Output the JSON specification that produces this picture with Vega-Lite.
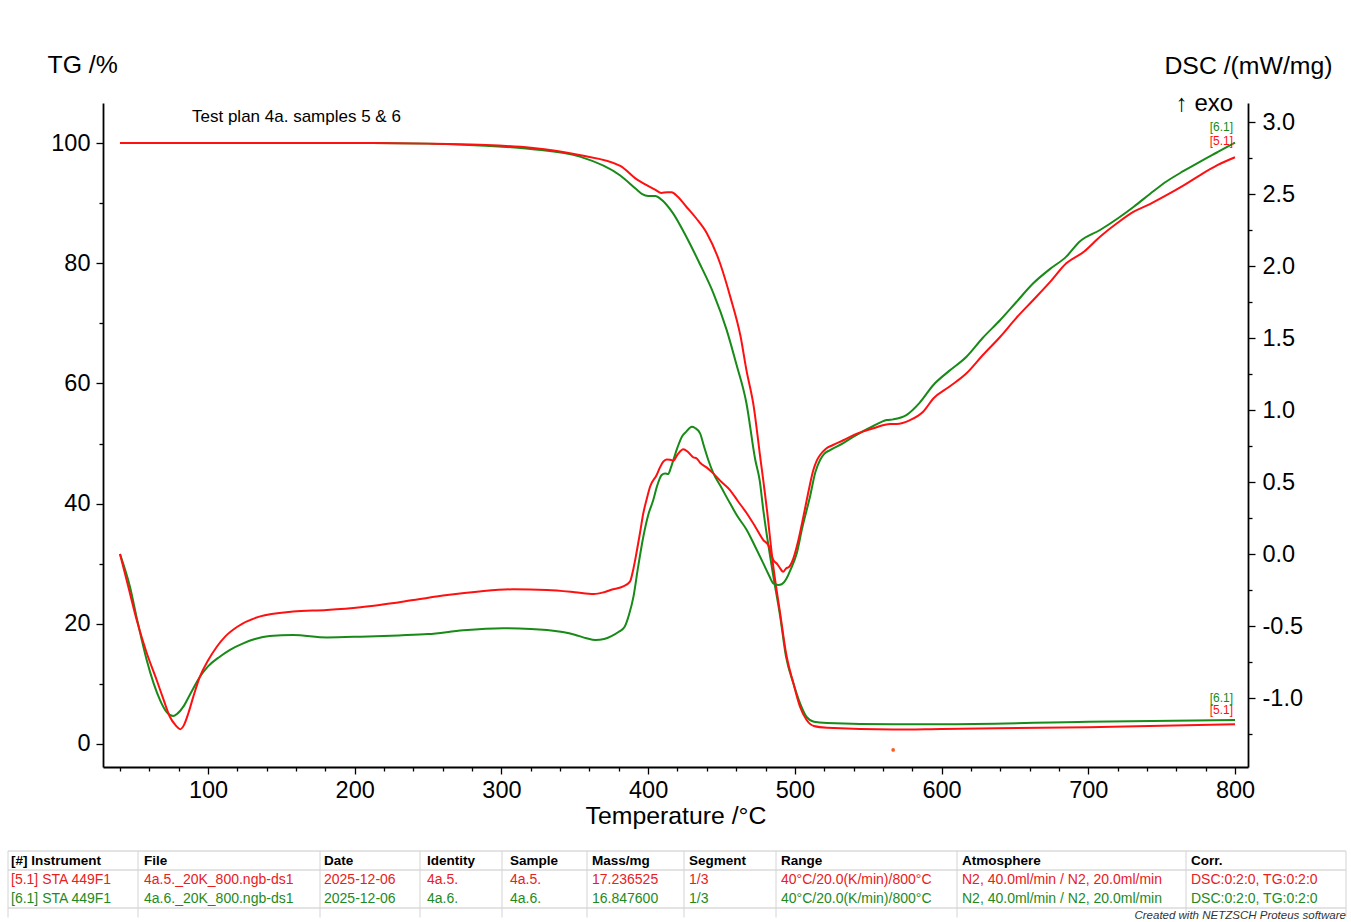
{
  "$schema": "https://vega.github.io/schema/vega-lite/v6.json",
  "width": 1145,
  "height": 664,
  "autosize": {"type": "none"},
  "padding": {"left": 103, "top": 103, "right": 103, "bottom": 155},
  "background": "white",
  "config": {
    "view": {"stroke": null},
    "font": "Liberation Sans",
    "text": {"font": "Liberation Sans"},
    "axis": {
      "domainColor": "black", "tickColor": "black", "labelColor": "black", "titleColor": "black",
      "labelFont": "Liberation Sans", "titleFont": "Liberation Sans", "grid": false,
      "labelFontSize": 23.5, "titleFontSize": 24.8, "titleFontWeight": "normal",
      "domainWidth": 1.8, "tickWidth": 1.3, "labelFlush": false, "labelOverlap": false
    }
  },
  "datasets": {
    "tg": [
      {"s":"6.1","T":40,"v":100},{"s":"6.1","T":200,"v":100},{"s":"6.1","T":250,"v":99.9},{"s":"6.1","T":285,"v":99.6},{"s":"6.1","T":320,"v":99.0},{"s":"6.1","T":354,"v":97.7},{"s":"6.1","T":381,"v":94.6},{"s":"6.1","T":392,"v":92.3},{"s":"6.1","T":396,"v":91.5},{"s":"6.1","T":400,"v":91.2},{"s":"6.1","T":405,"v":91.2},{"s":"6.1","T":408,"v":90.8},{"s":"6.1","T":417,"v":88.3},{"s":"6.1","T":426,"v":84.4},{"s":"6.1","T":435,"v":80.0},{"s":"6.1","T":444.5,"v":75.0},{"s":"6.1","T":453.5,"v":68.9},{"s":"6.1","T":460,"v":63.3},{"s":"6.1","T":467,"v":56.7},{"s":"6.1","T":473,"v":47.3},{"s":"6.1","T":476,"v":43.9},{"s":"6.1","T":478.5,"v":38.9},{"s":"6.1","T":485,"v":28.4},{"s":"6.1","T":490,"v":21.2},{"s":"6.1","T":494,"v":14.5},{"s":"6.1","T":499,"v":10.1},{"s":"6.1","T":503.5,"v":6.8},{"s":"6.1","T":508,"v":4.5},{"s":"6.1","T":513,"v":3.7},{"s":"6.1","T":522,"v":3.5},{"s":"6.1","T":567,"v":3.3},{"s":"6.1","T":600,"v":3.3},{"s":"6.1","T":700,"v":3.7},{"s":"6.1","T":800,"v":4.0},
      {"s":"5.1","T":40,"v":100},{"s":"5.1","T":100,"v":100},{"s":"5.1","T":200,"v":100},{"s":"5.1","T":250,"v":99.9},{"s":"5.1","T":285,"v":99.7},{"s":"5.1","T":320,"v":99.2},{"s":"5.1","T":353,"v":98.0},{"s":"5.1","T":381,"v":96.2},{"s":"5.1","T":392,"v":94.0},{"s":"5.1","T":399,"v":93.0},{"s":"5.1","T":405,"v":92.2},{"s":"5.1","T":409,"v":91.7},{"s":"5.1","T":413,"v":91.8},{"s":"5.1","T":416,"v":91.8},{"s":"5.1","T":420,"v":91.1},{"s":"5.1","T":426,"v":89.4},{"s":"5.1","T":433,"v":87.4},{"s":"5.1","T":440,"v":85.0},{"s":"5.1","T":449,"v":80.0},{"s":"5.1","T":456,"v":74.4},{"s":"5.1","T":463,"v":67.8},{"s":"5.1","T":467,"v":62.2},{"s":"5.1","T":472,"v":56.1},{"s":"5.1","T":476,"v":48.5},{"s":"5.1","T":481,"v":38.9},{"s":"5.1","T":485,"v":30.1},{"s":"5.1","T":490,"v":21.7},{"s":"5.1","T":494,"v":15.1},{"s":"5.1","T":499,"v":10.1},{"s":"5.1","T":503.5,"v":6.2},{"s":"5.1","T":508,"v":4.0},{"s":"5.1","T":513,"v":3.0},{"s":"5.1","T":522,"v":2.7},{"s":"5.1","T":567,"v":2.4},{"s":"5.1","T":600,"v":2.5},{"s":"5.1","T":700,"v":2.8},{"s":"5.1","T":800,"v":3.3}
    ],
    "dsc": [
      {"s":"6.1","T":40,"v":0.0},{"s":"6.1","T":46.8,"v":-0.227},{"s":"6.1","T":52,"v":-0.47},{"s":"6.1","T":58.2,"v":-0.736},{"s":"6.1","T":63,"v":-0.9},{"s":"6.1","T":67.3,"v":-1.014},{"s":"6.1","T":72,"v":-1.1},{"s":"6.1","T":76.3,"v":-1.125},{"s":"6.1","T":79,"v":-1.11},{"s":"6.1","T":83.2,"v":-1.06},{"s":"6.1","T":88,"v":-0.97},{"s":"6.1","T":94.5,"v":-0.852},{"s":"6.1","T":100,"v":-0.78},{"s":"6.1","T":108,"v":-0.713},{"s":"6.1","T":115,"v":-0.665},{"s":"6.1","T":124,"v":-0.62},{"s":"6.1","T":132,"v":-0.59},{"s":"6.1","T":142,"v":-0.569},{"s":"6.1","T":158,"v":-0.5625},{"s":"6.1","T":181,"v":-0.579},{"s":"6.1","T":204,"v":-0.574},{"s":"6.1","T":230,"v":-0.565},{"s":"6.1","T":250,"v":-0.556},{"s":"6.1","T":274,"v":-0.53},{"s":"6.1","T":301,"v":-0.516},{"s":"6.1","T":320,"v":-0.52},{"s":"6.1","T":331,"v":-0.528},{"s":"6.1","T":350,"v":-0.56},{"s":"6.1","T":358,"v":-0.585},{"s":"6.1","T":364,"v":-0.597},{"s":"6.1","T":370,"v":-0.59},{"s":"6.1","T":375,"v":-0.57},{"s":"6.1","T":380,"v":-0.54},{"s":"6.1","T":384,"v":-0.505},{"s":"6.1","T":387,"v":-0.42},{"s":"6.1","T":390,"v":-0.296},{"s":"6.1","T":393,"v":-0.1},{"s":"6.1","T":396.7,"v":0.12},{"s":"6.1","T":400,"v":0.27},{"s":"6.1","T":403.5,"v":0.375},{"s":"6.1","T":406,"v":0.47},{"s":"6.1","T":409.2,"v":0.549},{"s":"6.1","T":411.5,"v":0.56},{"s":"6.1","T":413.7,"v":0.556},{"s":"6.1","T":415.5,"v":0.6},{"s":"6.1","T":417.2,"v":0.653},{"s":"6.1","T":420,"v":0.74},{"s":"6.1","T":423,"v":0.815},{"s":"6.1","T":426,"v":0.85},{"s":"6.1","T":429.7,"v":0.884},{"s":"6.1","T":432,"v":0.875},{"s":"6.1","T":435.4,"v":0.838},{"s":"6.1","T":438,"v":0.75},{"s":"6.1","T":441,"v":0.653},{"s":"6.1","T":444.5,"v":0.56},{"s":"6.1","T":450,"v":0.46},{"s":"6.1","T":455.8,"v":0.352},{"s":"6.1","T":461,"v":0.26},{"s":"6.1","T":467.2,"v":0.167},{"s":"6.1","T":473,"v":0.05},{"s":"6.1","T":478.5,"v":-0.065},{"s":"6.1","T":482,"v":-0.14},{"s":"6.1","T":485.3,"v":-0.204},{"s":"6.1","T":488.7,"v":-0.215},{"s":"6.1","T":491,"v":-0.21},{"s":"6.1","T":494.4,"v":-0.169},{"s":"6.1","T":497,"v":-0.11},{"s":"6.1","T":501.3,"v":0.005},{"s":"6.1","T":505,"v":0.18},{"s":"6.1","T":510.3,"v":0.398},{"s":"6.1","T":514,"v":0.57},{"s":"6.1","T":517.2,"v":0.653},{"s":"6.1","T":520,"v":0.695},{"s":"6.1","T":524,"v":0.722},{"s":"6.1","T":533,"v":0.77},{"s":"6.1","T":540,"v":0.815},{"s":"6.1","T":553.5,"v":0.889},{"s":"6.1","T":562.6,"v":0.93},{"s":"6.1","T":567,"v":0.935},{"s":"6.1","T":576,"v":0.965},{"s":"6.1","T":585,"v":1.05},{"s":"6.1","T":594.4,"v":1.174},{"s":"6.1","T":605,"v":1.27},{"s":"6.1","T":617,"v":1.37},{"s":"6.1","T":628,"v":1.5},{"s":"6.1","T":640,"v":1.625},{"s":"6.1","T":651,"v":1.75},{"s":"6.1","T":662.5,"v":1.88},{"s":"6.1","T":674,"v":1.98},{"s":"6.1","T":685,"v":2.065},{"s":"6.1","T":694,"v":2.169},{"s":"6.1","T":708,"v":2.25},{"s":"6.1","T":720,"v":2.33},{"s":"6.1","T":731,"v":2.412},{"s":"6.1","T":742,"v":2.5},{"s":"6.1","T":753,"v":2.585},{"s":"6.1","T":765,"v":2.66},{"s":"6.1","T":776,"v":2.724},{"s":"6.1","T":788,"v":2.79},{"s":"6.1","T":800,"v":2.856},
      {"s":"5.1","T":40,"v":0.0},{"s":"5.1","T":45,"v":-0.2},{"s":"5.1","T":51.4,"v":-0.458},{"s":"5.1","T":58,"v":-0.68},{"s":"5.1","T":65,"v":-0.875},{"s":"5.1","T":70,"v":-1.02},{"s":"5.1","T":74,"v":-1.13},{"s":"5.1","T":78,"v":-1.19},{"s":"5.1","T":81,"v":-1.217},{"s":"5.1","T":83.5,"v":-1.19},{"s":"5.1","T":86.6,"v":-1.106},{"s":"5.1","T":90,"v":-0.99},{"s":"5.1","T":94.5,"v":-0.852},{"s":"5.1","T":100,"v":-0.74},{"s":"5.1","T":106,"v":-0.644},{"s":"5.1","T":112,"v":-0.57},{"s":"5.1","T":120,"v":-0.505},{"s":"5.1","T":135,"v":-0.435},{"s":"5.1","T":158,"v":-0.4},{"s":"5.1","T":181,"v":-0.389},{"s":"5.1","T":204,"v":-0.37},{"s":"5.1","T":217,"v":-0.354},{"s":"5.1","T":240,"v":-0.32},{"s":"5.1","T":263,"v":-0.285},{"s":"5.1","T":285,"v":-0.26},{"s":"5.1","T":308,"v":-0.245},{"s":"5.1","T":331,"v":-0.25},{"s":"5.1","T":350,"v":-0.265},{"s":"5.1","T":363,"v":-0.278},{"s":"5.1","T":370,"v":-0.265},{"s":"5.1","T":376,"v":-0.245},{"s":"5.1","T":383,"v":-0.225},{"s":"5.1","T":387.6,"v":-0.192},{"s":"5.1","T":390,"v":-0.1},{"s":"5.1","T":392,"v":0.005},{"s":"5.1","T":394.5,"v":0.15},{"s":"5.1","T":396.7,"v":0.283},{"s":"5.1","T":399,"v":0.38},{"s":"5.1","T":401.3,"v":0.467},{"s":"5.1","T":405.8,"v":0.549},{"s":"5.1","T":408,"v":0.6},{"s":"5.1","T":410.3,"v":0.641},{"s":"5.1","T":412.6,"v":0.657},{"s":"5.1","T":415,"v":0.655},{"s":"5.1","T":417.2,"v":0.648},{"s":"5.1","T":420,"v":0.69},{"s":"5.1","T":424,"v":0.727},{"s":"5.1","T":427,"v":0.71},{"s":"5.1","T":430.8,"v":0.671},{"s":"5.1","T":433,"v":0.665},{"s":"5.1","T":435.4,"v":0.634},{"s":"5.1","T":440,"v":0.6},{"s":"5.1","T":444.4,"v":0.56},{"s":"5.1","T":450,"v":0.5},{"s":"5.1","T":455.8,"v":0.444},{"s":"5.1","T":461,"v":0.37},{"s":"5.1","T":467.2,"v":0.283},{"s":"5.1","T":473,"v":0.19},{"s":"5.1","T":478.5,"v":0.097},{"s":"5.1","T":482,"v":0.06},{"s":"5.1","T":485.3,"v":-0.042},{"s":"5.1","T":488,"v":-0.07},{"s":"5.1","T":490,"v":-0.1},{"s":"5.1","T":492,"v":-0.123},{"s":"5.1","T":494,"v":-0.1},{"s":"5.1","T":496,"v":-0.09},{"s":"5.1","T":499,"v":-0.03},{"s":"5.1","T":502,"v":0.08},{"s":"5.1","T":505.8,"v":0.259},{"s":"5.1","T":509,"v":0.42},{"s":"5.1","T":512.6,"v":0.583},{"s":"5.1","T":515,"v":0.65},{"s":"5.1","T":517.2,"v":0.6875},{"s":"5.1","T":521,"v":0.73},{"s":"5.1","T":526,"v":0.757},{"s":"5.1","T":533,"v":0.79},{"s":"5.1","T":540,"v":0.826},{"s":"5.1","T":553.5,"v":0.873},{"s":"5.1","T":565,"v":0.903},{"s":"5.1","T":569.4,"v":0.903},{"s":"5.1","T":578.5,"v":0.93},{"s":"5.1","T":587.6,"v":0.99},{"s":"5.1","T":594.4,"v":1.08},{"s":"5.1","T":605,"v":1.16},{"s":"5.1","T":617,"v":1.255},{"s":"5.1","T":628,"v":1.38},{"s":"5.1","T":640,"v":1.509},{"s":"5.1","T":651,"v":1.64},{"s":"5.1","T":662.5,"v":1.764},{"s":"5.1","T":674,"v":1.89},{"s":"5.1","T":685,"v":2.019},{"s":"5.1","T":697,"v":2.099},{"s":"5.1","T":708,"v":2.203},{"s":"5.1","T":720,"v":2.3},{"s":"5.1","T":731,"v":2.377},{"s":"5.1","T":742,"v":2.43},{"s":"5.1","T":753,"v":2.49},{"s":"5.1","T":765,"v":2.56},{"s":"5.1","T":776,"v":2.63},{"s":"5.1","T":788,"v":2.7},{"s":"5.1","T":800,"v":2.755}
    ],
    "tbl": [
      {"c":1,"row":"h","t":"[#] Instrument"},{"c":2,"row":"h","t":"File"},{"c":3,"row":"h","t":"Date"},{"c":4,"row":"h","t":"Identity"},{"c":5,"row":"h","t":"Sample"},{"c":6,"row":"h","t":"Mass/mg"},{"c":7,"row":"h","t":"Segment"},{"c":8,"row":"h","t":"Range"},{"c":9,"row":"h","t":"Atmosphere"},{"c":10,"row":"h","t":"Corr."},
      {"c":1,"row":"5.1","t":"[5.1] STA 449F1"},{"c":2,"row":"5.1","t":"4a.5._20K_800.ngb-ds1"},{"c":3,"row":"5.1","t":"2025-12-06"},{"c":4,"row":"5.1","t":"4a.5."},{"c":5,"row":"5.1","t":"4a.5."},{"c":6,"row":"5.1","t":"17.236525"},{"c":7,"row":"5.1","t":"1/3"},{"c":8,"row":"5.1","t":"40°C/20.0(K/min)/800°C"},{"c":9,"row":"5.1","t":"N2, 40.0ml/min / N2, 20.0ml/min"},{"c":10,"row":"5.1","t":"DSC:0:2:0, TG:0:2:0"},
      {"c":1,"row":"6.1","t":"[6.1] STA 449F1"},{"c":2,"row":"6.1","t":"4a.6._20K_800.ngb-ds1"},{"c":3,"row":"6.1","t":"2025-12-06"},{"c":4,"row":"6.1","t":"4a.6."},{"c":5,"row":"6.1","t":"4a.6."},{"c":6,"row":"6.1","t":"16.847600"},{"c":7,"row":"6.1","t":"1/3"},{"c":8,"row":"6.1","t":"40°C/20.0(K/min)/800°C"},{"c":9,"row":"6.1","t":"N2, 40.0ml/min / N2, 20.0ml/min"},{"c":10,"row":"6.1","t":"DSC:0:2:0, TG:0:2:0"},
      {"c":11,"row":"f","t":"Created with NETZSCH Proteus software"}
    ]
  },
  "resolve": {"scale": {"x": "independent", "y": "independent", "color": "independent"}, "axis": {"x": "independent", "y": "independent"}},
  "layer": [
    {
      "data": {"values": [{"row": "h"}, {"row": "5.1"}, {"row": "f"}]},
      "mark": {"type": "rule", "color": "#c8c8c8", "strokeWidth": 1},
      "encoding": {
        "x": {"datum": 0, "type": "quantitative", "scale": {"domain": [0,1,1.5,2,2.5,3,3.5,4,4.5,5,5.5,6,6.5,7,7.5,8,8.5,9,9.5,10,11], "range": [-95,-92,35,41,217,221,317,324,399,407,484,489,581,586,673,678,854,859,1083,1088,1243], "nice": false, "zero": false}, "axis": null},
        "x2": {"datum": 11},
        "y": {"field": "row", "type": "nominal", "bandPosition": 0, "scale": {"type": "band", "domain": ["h","5.1","6.1","f"], "range": [748, 824], "paddingInner": 0, "paddingOuter": 0}, "axis": null}
      }
    },
    {
      "data": {"values": [{"b": 0}, {"b": 1.5}, {"b": 2.5}, {"b": 3.5}, {"b": 4.5}, {"b": 5.5}, {"b": 6.5}, {"b": 7.5}, {"b": 8.5}, {"b": 9.5}, {"b": 11}]},
      "mark": {"type": "rule", "color": "#d4d4d4", "strokeWidth": 1},
      "encoding": {
        "x": {"field": "b", "type": "quantitative", "scale": {"domain": [0,1,1.5,2,2.5,3,3.5,4,4.5,5,5.5,6,6.5,7,7.5,8,8.5,9,9.5,10,11], "range": [-95,-92,35,41,217,221,317,324,399,407,484,489,581,586,673,678,854,859,1083,1088,1243], "nice": false, "zero": false}, "axis": null},
        "y": {"datum": "h", "type": "nominal", "bandPosition": 0, "scale": {"type": "band", "domain": ["h","5.1","6.1","f"], "range": [748, 824], "paddingInner": 0, "paddingOuter": 0}, "axis": null},
        "y2": {"datum": "f"}
      }
    },
    {
      "data": {"name": "tg"},
      "mark": {"type": "line", "strokeWidth": 2, "interpolate": "monotone"},
      "encoding": {
        "x": {"field": "T", "type": "quantitative", "scale": {"domain": [28.43, 808.86], "nice": false, "zero": false},
          "axis": {"orient": "bottom", "title": "Temperature /°C", "values": [100,200,300,400,500,600,700,800], "tickSize": 7, "labelPadding": 4, "titleY": 56, "titleBaseline": "alphabetic"}},
        "y": {"field": "v", "type": "quantitative", "scale": {"domain": [-3.83, 106.66], "nice": false, "zero": false},
          "axis": {"orient": "left", "title": "TG /%", "values": [0,20,40,60,80,100], "tickSize": 7, "labelPadding": 6, "titleAngle": 0, "titleAlign": "left", "titleBaseline": "alphabetic", "titleX": -56, "titleY": -31}},
        "color": {"field": "s", "type": "nominal", "scale": {"domain": ["5.1","6.1"], "range": ["#ff1010","#178a17"]}, "legend": null}
      }
    },
    {
      "data": {"name": "dsc"},
      "mark": {"type": "line", "strokeWidth": 2, "interpolate": "monotone"},
      "encoding": {
        "x": {"field": "T", "type": "quantitative", "scale": {"domain": [28.43, 808.86], "nice": false, "zero": false},
          "axis": {"orient": "bottom", "title": null, "values": [40,60,80,120,140,160,180,220,240,260,280,320,340,360,380,420,440,460,480,520,540,560,580,620,640,660,680,720,740,760,780], "tickSize": 4, "labels": false, "domain": false}},
        "y": {"field": "v", "type": "quantitative", "scale": {"domain": [-1.479, 3.132], "nice": false, "zero": false},
          "axis": {"orient": "right", "title": "DSC /(mW/mg)", "values": [-1,-0.5,0,0.5,1,1.5,2,2.5,3], "labelExpr": "(datum.value < 0 ? '-' : '') + format(abs(datum.value), '.1f')", "tickSize": 7, "labelPadding": 7, "titleAngle": 0, "titleAlign": "right", "titleBaseline": "alphabetic", "titleX": 84, "titleY": -30}},
        "color": {"field": "s", "type": "nominal", "scale": {"domain": ["5.1","6.1"], "range": ["#ff1010","#178a17"]}, "legend": null}
      }
    },
    {
      "data": {"values": [{"T": 89.1, "v": 104.3, "label": "Test plan 4a. samples 5 & 6"}]},
      "mark": {"type": "text", "align": "left", "baseline": "middle", "fontSize": 17, "color": "black"},
      "encoding": {
        "x": {"field": "T", "type": "quantitative", "scale": {"domain": [28.43, 808.86], "nice": false, "zero": false}, "axis": null},
        "y": {"field": "v", "type": "quantitative", "scale": {"domain": [-3.83, 106.66], "nice": false, "zero": false},
          "axis": {"orient": "left", "title": null, "values": [10,30,50,70,90], "tickSize": 4, "labels": false, "domain": false}},
        "text": {"field": "label"}
      }
    },
    {
      "data": {"values": [{"T": 798.7, "v": 3.078, "label": "↑ exo"}]},
      "mark": {"type": "text", "align": "right", "baseline": "alphabetic", "fontSize": 24, "color": "black"},
      "encoding": {
        "x": {"field": "T", "type": "quantitative", "scale": {"domain": [28.43, 808.86], "nice": false, "zero": false}, "axis": null},
        "y": {"field": "v", "type": "quantitative", "scale": {"domain": [-1.479, 3.132], "nice": false, "zero": false},
          "axis": {"orient": "right", "title": null, "values": [-1.25,-0.75,-0.25,0.25,0.75,1.25,1.75,2.25,2.75], "tickSize": 4, "labels": false, "domain": false}},
        "text": {"field": "label"}
      }
    },
    {
      "data": {"values": [{"T": 798.7, "v": 2.965, "label": "[6.1]", "s": "6.1"}, {"T": 798.7, "v": 2.868, "label": "[5.1]", "s": "5.1"}]},
      "mark": {"type": "text", "align": "right", "baseline": "middle", "fontSize": 12},
      "encoding": {
        "x": {"field": "T", "type": "quantitative", "scale": {"domain": [28.43, 808.86], "nice": false, "zero": false}, "axis": null},
        "y": {"field": "v", "type": "quantitative", "scale": {"domain": [-1.479, 3.132], "nice": false, "zero": false}, "axis": null},
        "color": {"field": "s", "type": "nominal", "scale": {"domain": ["5.1","6.1"], "range": ["#ff1010","#178a17"]}, "legend": null},
        "text": {"field": "label"}
      }
    },
    {
      "data": {"values": [{"T": 798.7, "v": 7.6, "label": "[6.1]", "s": "6.1"}, {"T": 798.7, "v": 5.7, "label": "[5.1]", "s": "5.1"}]},
      "mark": {"type": "text", "align": "right", "baseline": "middle", "fontSize": 12},
      "encoding": {
        "x": {"field": "T", "type": "quantitative", "scale": {"domain": [28.43, 808.86], "nice": false, "zero": false}, "axis": null},
        "y": {"field": "v", "type": "quantitative", "scale": {"domain": [-3.83, 106.66], "nice": false, "zero": false}, "axis": null},
        "color": {"field": "s", "type": "nominal", "scale": {"domain": ["5.1","6.1"], "range": ["#ff1010","#178a17"]}, "legend": null},
        "text": {"field": "label"}
      }
    },
    {
      "data": {"values": [{"T": 567, "v": -1.0}]},
      "mark": {"type": "circle", "size": 14, "color": "#ff5a1f", "opacity": 1},
      "encoding": {
        "x": {"field": "T", "type": "quantitative", "scale": {"domain": [28.43, 808.86], "nice": false, "zero": false}, "axis": null},
        "y": {"field": "v", "type": "quantitative", "scale": {"domain": [-3.83, 106.66], "nice": false, "zero": false}, "axis": null}
      }
    },
    {
      "data": {"name": "tbl"},
      "transform": [{"filter": "datum.row === 'h'"}],
      "mark": {"type": "text", "align": "left", "baseline": "middle", "fontSize": 13.5, "fontWeight": "bold", "color": "black"},
      "encoding": {
        "x": {"field": "c", "type": "quantitative", "scale": {"domain": [0,1,1.5,2,2.5,3,3.5,4,4.5,5,5.5,6,6.5,7,7.5,8,8.5,9,9.5,10,11], "range": [-95,-92,35,41,217,221,317,324,399,407,484,489,581,586,673,678,854,859,1083,1088,1243], "nice": false, "zero": false}, "axis": null},
        "y": {"field": "row", "type": "nominal", "scale": {"type": "band", "domain": ["h","5.1","6.1","f"], "range": [748, 824], "paddingInner": 0, "paddingOuter": 0}, "axis": null},
        "text": {"field": "t"}
      }
    },
    {
      "data": {"name": "tbl"},
      "transform": [{"filter": "datum.row === '5.1' || datum.row === '6.1'"}],
      "mark": {"type": "text", "align": "left", "baseline": "middle", "fontSize": 14},
      "encoding": {
        "x": {"field": "c", "type": "quantitative", "scale": {"domain": [0,1,1.5,2,2.5,3,3.5,4,4.5,5,5.5,6,6.5,7,7.5,8,8.5,9,9.5,10,11], "range": [-95,-92,35,41,217,221,317,324,399,407,484,489,581,586,673,678,854,859,1083,1088,1243], "nice": false, "zero": false}, "axis": null},
        "y": {"field": "row", "type": "nominal", "scale": {"type": "band", "domain": ["h","5.1","6.1","f"], "range": [748, 824], "paddingInner": 0, "paddingOuter": 0}, "axis": null},
        "color": {"field": "row", "type": "nominal", "scale": {"domain": ["5.1","6.1"], "range": ["#e8201e","#1e8a1e"]}, "legend": null},
        "text": {"field": "t"}
      }
    },
    {
      "data": {"name": "tbl"},
      "transform": [{"filter": "datum.row === 'f'"}],
      "mark": {"type": "text", "align": "right", "baseline": "middle", "fontSize": 11.5, "fontStyle": "italic", "color": "#333333", "dy": -2},
      "encoding": {
        "x": {"field": "c", "type": "quantitative", "scale": {"domain": [0,1,1.5,2,2.5,3,3.5,4,4.5,5,5.5,6,6.5,7,7.5,8,8.5,9,9.5,10,11], "range": [-95,-92,35,41,217,221,317,324,399,407,484,489,581,586,673,678,854,859,1083,1088,1243], "nice": false, "zero": false}, "axis": null},
        "y": {"field": "row", "type": "nominal", "scale": {"type": "band", "domain": ["h","5.1","6.1","f"], "range": [748, 824], "paddingInner": 0, "paddingOuter": 0}, "axis": null},
        "text": {"field": "t"}
      }
    }
  ]
}
